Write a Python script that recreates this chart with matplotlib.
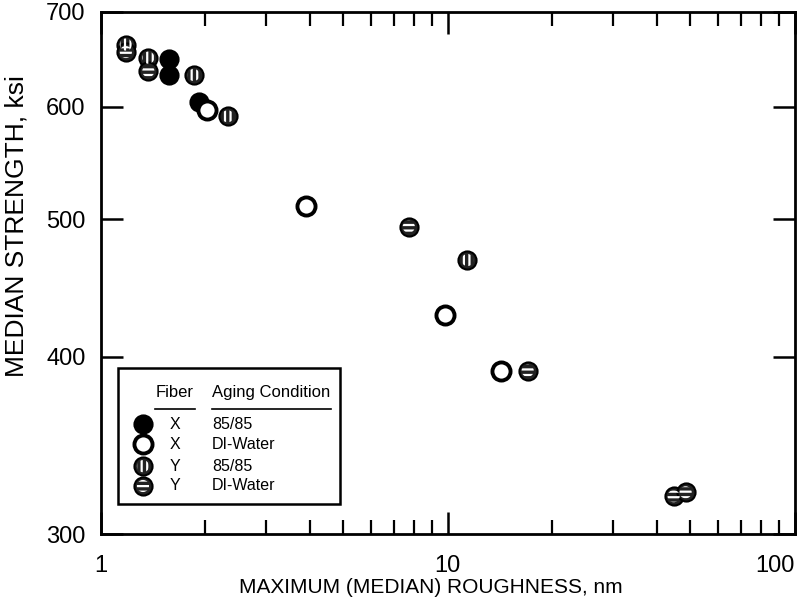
import matplotlib.pyplot as plt
from matplotlib.patches import Rectangle
from matplotlib.ticker import NullFormatter, NullLocator, FixedLocator

plt.rcParams['font.family'] = ['Liberation Sans', 'DejaVu Sans']
plt.rcParams['hatch.linewidth'] = 1.6

# Fiber X, 85/85 (filled)
x_x85 = [1.57, 1.57, 1.92]
y_x85 = [649, 632, 605]
# Fiber X, DI-Water (open)
x_xdi = [2.02, 3.90, 9.80, 14.2]
y_xdi = [597, 511, 428, 391]
# Fiber Y, 85/85 (vertical stripes)
x_y85 = [1.18, 1.37, 1.85, 2.32, 11.4]
y_y85 = [664, 650, 632, 591, 468]
# Fiber Y, DI-Water (horizontal stripes)
x_ydi = [1.18, 1.37, 7.72, 17.0, 44.8, 48.5]
y_ydi = [656, 636, 494, 391, 319, 321]

y_ticks = [300, 400, 500, 600, 700]
x_ticks = [1, 10, 100]

legend_rows = [('X', '85/85'), ('X', 'DI-Water'), ('Y', '85/85'), ('Y', 'DI-Water')]

fig = plt.figure(figsize=(8.01, 6.03), dpi=100)
ax = fig.add_axes([0.126, 0.1144, 0.866, 0.8657])
ax.set_xscale('log')
ax.set_yscale('log')
ax.set_xlim(1, 100)
ax.set_ylim(300, 700)

S = 170


def draw_marker(xs, ys, kind, **kw):
    if kind == 'filled':
        ax.scatter(xs, ys, s=S, c='black', edgecolors='black', linewidths=1.5, zorder=3, **kw)
    elif kind == 'open':
        ax.scatter(xs, ys, s=S, c='white', edgecolors='black', linewidths=2.8, zorder=3, **kw)
    else:
        hatch = '|||' if kind == 'vert' else '---'
        ax.scatter(xs, ys, s=S, c='#222222', edgecolors='black', linewidths=1.5, zorder=3, **kw)
        ax.scatter(xs, ys, s=S * 0.45, facecolors='none', edgecolors='white', linewidths=0,
                   hatch=hatch, zorder=4, **kw)


draw_marker(x_x85, y_x85, 'filled')
draw_marker(x_xdi, y_xdi, 'open')
draw_marker(x_y85, y_y85, 'vert')
draw_marker(x_ydi, y_ydi, 'horiz')

ax.yaxis.set_major_locator(FixedLocator(y_ticks))
ax.yaxis.set_minor_locator(NullLocator())
ax.yaxis.set_minor_formatter(NullFormatter())
ax.set_yticklabels([str(v) for v in y_ticks])
ax.xaxis.set_major_locator(FixedLocator(x_ticks))
xt = ax.set_xticklabels([str(v) for v in x_ticks])
xt[-1].set_horizontalalignment('right')
ax.xaxis.set_minor_formatter(NullFormatter())

ax.tick_params(which='major', direction='in', length=16, width=1.8, top=True, right=True,
               labelsize=17)
ax.tick_params(axis='x', which='major', pad=15)
ax.tick_params(axis='y', which='major', pad=11)
ax.tick_params(which='minor', direction='in', length=10, width=1.6, top=True, right=True)
for sp in ax.spines.values():
    sp.set_linewidth(2)

ax.set_xlabel('MAXIMUM (MEDIAN) ROUGHNESS, nm', fontsize=15, labelpad=0)
ax.xaxis.set_label_coords(0.475, -0.085)
ax.set_ylabel('MEDIAN STRENGTH, ksi', fontsize=19)
ax.yaxis.set_label_coords(-0.104, 0.59)

# hand-built legend box
ax.add_patch(Rectangle((0.0245, 0.0575), 0.3195, 0.26, transform=ax.transAxes,
                       fill=False, edgecolor='black', linewidth=1.8, zorder=5))
ax.text(0.1066, 0.272, 'Fiber', transform=ax.transAxes, fontsize=12, ha='center', va='center')
ax.text(0.160, 0.272, 'Aging Condition', transform=ax.transAxes, fontsize=12, ha='left', va='center')
ax.plot([0.078, 0.135], [0.24, 0.24], transform=ax.transAxes, color='black', lw=1.2)
ax.plot([0.160, 0.331], [0.24, 0.24], transform=ax.transAxes, color='black', lw=1.2)

kinds = ['filled', 'open', 'vert', 'horiz']
row_y = [0.21, 0.172, 0.13, 0.092]
for (fib, cond), kind, ry in zip(legend_rows, kinds, row_y):
    draw_marker([0.0606], [ry], kind, transform=ax.transAxes, clip_on=False)
    ax.text(0.1066, ry, fib, transform=ax.transAxes, fontsize=11.5, ha='center', va='center')
    ax.text(0.160, ry, cond, transform=ax.transAxes, fontsize=11.5, ha='left', va='center')

fig.savefig('out.png', dpi=100)
